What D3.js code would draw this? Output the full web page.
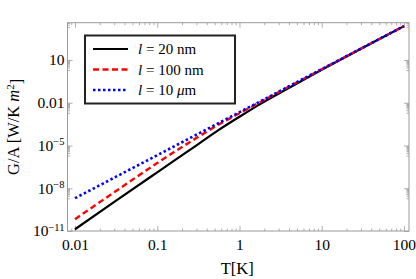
<!DOCTYPE html>
<html><head><meta charset="utf-8">
<script src="https://cdn.jsdelivr.net/npm/d3@7"></script>
<style>
html,body{margin:0;padding:0;background:#fff;}
svg{display:block;}
</style></head>
<body>
<svg id="chart" width="416" height="279"></svg>
<script>
// ---- data ----
const temps = [0.01, 0.0316, 0.1, 0.316, 0.56, 1, 1.78, 3.16, 10, 31.6, 100];
const g20nm  = [1.32e-11, 1.35e-9, 1.32e-7, 1.26e-5, 1.25e-4, 1.05e-3, 8.1e-3, 0.0530, 2.08, 72.4, 2399];
const g100nm = [6.76e-11, 6.46e-9, 5.89e-7, 4.07e-5, 3.0e-4, 1.85e-3, 1.1e-2, 0.0661, 2.24, 74.1, 2399];
const g10um  = [2.0e-9, 6.46e-8, 2.09e-6, 6.76e-5, 3.8e-4, 2.19e-3, 1.23e-2, 0.0708, 2.29, 74.1, 2399];
const seriesNames = ["20 nm", "100 nm", "10 \u03bcm"];
const xTickValues = [0.01, 0.1, 1, 10, 100];
const xTickLabels = ["0.01", "0.1", "1", "10", "100"];
const yTickValues = [1e-11, 1e-8, 1e-5, 0.01, 10];
const yTickLabels = [["10","\u221211"], ["10","\u22128"], ["10","\u22125"], ["0.01",""], ["10",""]];

const svg = d3.select("#chart");
const L = 67.5, R = 409, T = 22.7, B = 231;
const x = d3.scaleLog().domain([Math.pow(10,-2.091), Math.pow(10,2.061)]).range([L, R]);
const y = d3.scaleLog().domain([1e-11, Math.pow(10,3.62)]).range([B, T]);

const frameColor = "#9a9a9a";
const FONT = "'Liberation Serif'";

// minor ticks
const xMinor = [];
for (let k = -3; k <= 2; k++) for (let m = 2; m <= 9; m++) {
  const v = m * Math.pow(10, k);
  if (v > x.domain()[0] && v < x.domain()[1]) xMinor.push(v);
}
const yMinor = [];
[1e-11, 1e-8, 1e-5, 1e-2, 10, 1e4].forEach(k => {
  for (let m = 2; m <= 9; m++) {
    const v = m * k / 10;
    if (v > y.domain()[0] && v < y.domain()[1]) yMinor.push(v);
  }
});

function styleAxis(g) {
  g.attr("font-family", null);
  g.select(".domain").remove();
  g.selectAll(".tick line").attr("stroke", frameColor).attr("stroke-width", 0.8);
}

// bottom axis
const gxb = svg.append("g").attr("transform", `translate(0,${B})`)
  .call(d3.axisBottom(x).tickValues(xTickValues).tickSizeInner(-5).tickSizeOuter(0).tickPadding(8)
    .tickFormat((d,i) => xTickLabels[i]));
styleAxis(gxb);
gxb.selectAll("text").style("font-family", FONT).style("font-size", "15.5px").attr("fill", "#000");
svg.append("g").attr("transform", `translate(0,${B})`)
  .call(d3.axisBottom(x).tickValues(xMinor).tickSizeInner(-2.5).tickSizeOuter(0).tickFormat(""))
  .call(styleAxis);
// top axis
svg.append("g").attr("transform", `translate(0,${T})`)
  .call(d3.axisTop(x).tickValues(xTickValues).tickSizeInner(-5).tickSizeOuter(0).tickFormat(""))
  .call(styleAxis);
svg.append("g").attr("transform", `translate(0,${T})`)
  .call(d3.axisTop(x).tickValues(xMinor).tickSizeInner(-2.5).tickSizeOuter(0).tickFormat(""))
  .call(styleAxis);

// left axis
const gyl = svg.append("g").attr("transform", `translate(${L},0)`)
  .call(d3.axisLeft(y).tickValues(yTickValues).tickSizeInner(-5).tickSizeOuter(0).tickPadding(3)
    .tickFormat(""));
styleAxis(gyl);
gyl.selectAll(".tick text").each(function(d, i) {
  const t = d3.select(this).style("font-family", FONT).style("font-size", "15.5px")
    .attr("fill", "#000").attr("dy", "0.32em");
  const lab = yTickLabels[i];
  t.append("tspan").text(lab[0]);
  if (lab[1]) t.append("tspan").style("font-size", "10.5px").attr("dy", "-0.55em").text(lab[1]);
});
svg.append("g").attr("transform", `translate(${L},0)`)
  .call(d3.axisLeft(y).tickValues(yMinor).tickSizeInner(-2.5).tickSizeOuter(0).tickFormat(""))
  .call(styleAxis);
// right axis
svg.append("g").attr("transform", `translate(${R},0)`)
  .call(d3.axisRight(y).tickValues(yTickValues).tickSizeInner(-5).tickSizeOuter(0).tickFormat(""))
  .call(styleAxis);
svg.append("g").attr("transform", `translate(${R},0)`)
  .call(d3.axisRight(y).tickValues(yMinor).tickSizeInner(-2.5).tickSizeOuter(0).tickFormat(""))
  .call(styleAxis);

// frame
svg.append("rect").attr("x", L).attr("y", T).attr("width", R - L).attr("height", B - T)
  .attr("fill", "none").attr("stroke", frameColor).attr("stroke-width", 1);

// lines
const styles = [
  {data: g20nm,  color: "#000000", dash: null,  w: 2.2},
  {data: g100nm, color: "#ff0000", dash: "6,3.5", w: 2.4},
  {data: g10um,  color: "#0000ff", dash: "2.5,2.5", w: 2.6}
];
const line = d3.line().x(d => x(d[0])).y(d => y(d[1])).curve(d3.curveMonotoneX);
svg.append("clipPath").attr("id", "clip").append("rect")
  .attr("x", L).attr("y", T).attr("width", R - L).attr("height", B - T);
styles.forEach(s => {
  svg.append("path").datum(temps.map((t, i) => [t, s.data[i]]))
    .attr("d", line).attr("fill", "none").attr("stroke", s.color)
    .attr("stroke-width", s.w).attr("stroke-dasharray", s.dash)
    .attr("clip-path", "url(#clip)");
});

// legend
const lg = svg.append("g");
lg.append("rect").attr("x", 85).attr("y", 35.5).attr("width", 150).attr("height", 68)
  .attr("fill", "#fff").attr("stroke", "#222").attr("stroke-width", 2);
styles.forEach((s, i) => {
  const yy = 49 + i * 20.5;
  lg.append("line").attr("x1", 93).attr("x2", 128).attr("y1", yy).attr("y2", yy)
    .attr("stroke", s.color).attr("stroke-width", s.w).attr("stroke-dasharray", s.dash);
  const t = lg.append("text").attr("x", 138).attr("y", yy).attr("dy", "0.35em")
    .style("font-family", FONT).style("font-size", "15px").attr("fill", "#000");
  t.append("tspan").style("font-style", "italic").text("l");
  const parts = seriesNames[i].split(" ");
  t.append("tspan").text(" = " + parts[0] + " ");
  if (parts[1] === "\u03bcm") {
    t.append("tspan").style("font-style", "italic").text("\u03bc");
    t.append("tspan").text("m");
  } else {
    t.append("tspan").text(parts[1]);
  }
});

// axis titles
svg.append("text").attr("x", (L + R) / 2 - 1).attr("y", 274).attr("text-anchor", "middle")
  .style("font-family", FONT).style("font-size", "16.5px").attr("fill", "#000").text("T[K]");
const yt = svg.append("text").attr("transform", `translate(19,${(T + B) / 2}) rotate(-90)`)
  .style("font-family", FONT).attr("text-anchor", "middle").style("font-size", "16.5px").attr("fill", "#000");
yt.append("tspan").text("G/A [W/K ");
yt.append("tspan").style("font-style", "italic").text("m");
yt.append("tspan").style("font-size", "11px").attr("dy", "-0.5em").text("2");
yt.append("tspan").attr("dy", "0.5em").text("]");
</script>
</body></html>
